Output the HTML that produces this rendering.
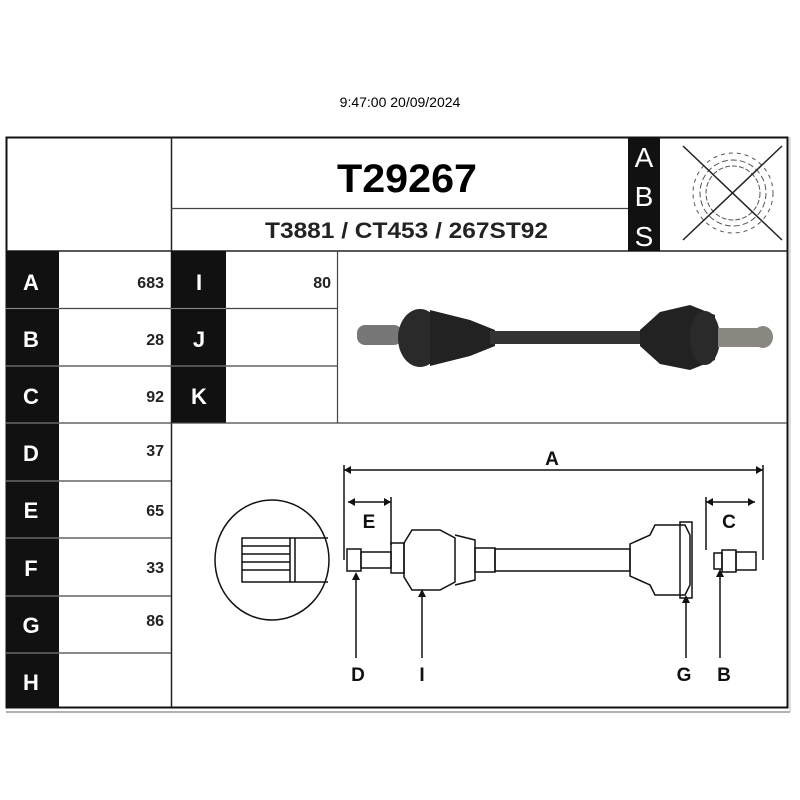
<!DOCTYPE html>
<html><head><style>
body{margin:0;background:#fff;}
svg{display:block;font-family:"Liberation Sans",Arial,sans-serif;}
</style></head><body>
<svg width="800" height="800" viewBox="0 0 800 800">
<text x="400" y="107" font-size="14" text-anchor="middle">9:47:00 20/09/2024</text>
<rect x="6.5" y="137.5" width="781" height="570" fill="none" stroke="#111" stroke-width="2"/>
<line x1="6" y1="712" x2="790" y2="712" stroke="#999" stroke-width="1.5"/>
<line x1="790" y1="137" x2="790" y2="712" stroke="#bbb" stroke-width="1"/>
<line x1="171.5" y1="137" x2="171.5" y2="707" stroke="#222" stroke-width="1.5"/>
<line x1="171" y1="208.5" x2="628" y2="208.5" stroke="#444" stroke-width="1.2"/>
<line x1="6" y1="251" x2="787" y2="251" stroke="#222" stroke-width="1.5"/>
<rect x="628" y="137" width="32" height="114" fill="#111"/>
<text x="644" y="167" font-size="28" fill="#fff" text-anchor="middle">A</text>
<text x="644" y="206" font-size="28" fill="#fff" text-anchor="middle">B</text>
<text x="644" y="246" font-size="28" fill="#fff" text-anchor="middle">S</text>
<text x="337" y="192" font-size="40" font-weight="bold" textLength="140" lengthAdjust="spacingAndGlyphs">T29267</text>
<text x="265" y="238" font-size="22" font-weight="bold" fill="#222" textLength="283" lengthAdjust="spacingAndGlyphs">T3881 / CT453 / 267ST92</text>
<g fill="none" stroke="#555" stroke-width="1">
<circle cx="733" cy="193" r="33" stroke-dasharray="6 3"/>
<circle cx="733" cy="193" r="40" stroke-dasharray="4 4"/>
<circle cx="733" cy="193" r="27" stroke-dasharray="5 2"/>
</g>
<line x1="683" y1="146" x2="782" y2="240" stroke="#222" stroke-width="1.5"/>
<line x1="782" y1="146" x2="683" y2="240" stroke="#222" stroke-width="1.5"/>
<g fill="#111">
<rect x="6" y="251" width="53" height="456"/>
<rect x="171" y="251" width="55" height="172"/>
</g>
<g stroke="#444" stroke-width="1.2">
<line x1="6" y1="308.5" x2="337" y2="308.5"/>
<line x1="6" y1="366" x2="337" y2="366"/>
<line x1="6" y1="423" x2="787" y2="423"/>
<line x1="6" y1="481" x2="171" y2="481"/>
<line x1="6" y1="538" x2="171" y2="538"/>
<line x1="6" y1="596" x2="171" y2="596"/>
<line x1="6" y1="653" x2="171" y2="653"/>
<line x1="337.5" y1="251" x2="337.5" y2="423"/>
</g>
<g stroke="#888" stroke-width="1">
<line x1="6" y1="308.5" x2="59" y2="308.5"/><line x1="6" y1="366" x2="59" y2="366"/><line x1="6" y1="423" x2="59" y2="423"/><line x1="6" y1="481" x2="59" y2="481"/><line x1="6" y1="538" x2="59" y2="538"/><line x1="6" y1="596" x2="59" y2="596"/><line x1="6" y1="653" x2="59" y2="653"/>
<line x1="171" y1="308.5" x2="226" y2="308.5"/><line x1="171" y1="366" x2="226" y2="366"/>
</g>
<g fill="#fff" font-size="22" font-weight="bold" text-anchor="middle">
<text x="31" y="290">A</text><text x="31" y="347">B</text><text x="31" y="404">C</text><text x="31" y="461">D</text><text x="31" y="518">E</text><text x="31" y="576">F</text><text x="31" y="633">G</text><text x="31" y="690">H</text>
<text x="199" y="290">I</text><text x="199" y="347">J</text><text x="199" y="404">K</text>
</g>
<g font-size="16" font-weight="bold" text-anchor="end" fill="#222">
<text x="164" y="288">683</text><text x="164" y="345">28</text><text x="164" y="402">92</text><text x="164" y="456">37</text><text x="164" y="516">65</text><text x="164" y="573">33</text><text x="164" y="626">86</text>
<text x="331" y="288">80</text>
</g>
<g>
<rect x="357" y="325" width="45" height="20" rx="8" fill="#777"/>
<ellipse cx="420" cy="338" rx="22" ry="29" fill="#2a2a2a"/>
<path d="M430 310 L470 320 L495 330 L495 346 L470 356 L430 366 Z" fill="#222"/>
<rect x="490" y="331" width="150" height="13" fill="#333"/>
<path d="M640 330 L660 312 L690 305 L715 315 L715 360 L690 370 L660 364 L640 346 Z" fill="#222"/>
<ellipse cx="705" cy="338" rx="15" ry="27" fill="#2a2a2a"/>
<rect x="718" y="328" width="45" height="19" fill="#8a8680"/>
<ellipse cx="763" cy="337" rx="10" ry="11" fill="#8a8680"/>
</g>
<g stroke="#111" fill="none" stroke-width="1.5">
<ellipse cx="272" cy="560" rx="57" ry="60"/>
<rect x="242" y="538" width="48" height="44" fill="#fff"/>
<line x1="242" y1="546" x2="290" y2="546"/><line x1="242" y1="554" x2="290" y2="554"/><line x1="242" y1="562" x2="290" y2="562"/><line x1="242" y1="570" x2="290" y2="570"/>
<line x1="290" y1="538" x2="328" y2="538"/><line x1="290" y1="582" x2="328" y2="582"/><line x1="295" y1="538" x2="295" y2="582"/>
<line x1="344" y1="470" x2="763" y2="470"/>
<line x1="344" y1="465" x2="344" y2="560"/><line x1="763" y1="465" x2="763" y2="560"/>
<line x1="348" y1="502" x2="391" y2="502"/><line x1="391" y1="497" x2="391" y2="545"/>
<line x1="706" y1="502" x2="755" y2="502"/><line x1="706" y1="497" x2="706" y2="550"/>
<rect x="347" y="549" width="14" height="22"/>
<rect x="361" y="552" width="30" height="16"/>
<rect x="391" y="543" width="13" height="30"/>
<path d="M404 543 L412 530 L440 530 L455 538 L455 582 L440 590 L412 590 L404 577 Z"/>
<path d="M455 535 L475 540 L475 580 L455 585"/>
<rect x="475" y="548" width="20" height="24"/>
<rect x="495" y="549" width="135" height="22"/>
<path d="M630 544 L650 535 L655 525 L685 525 L690 535 L690 585 L685 595 L655 595 L650 585 L630 576 Z"/>
<rect x="680" y="522" width="12" height="76"/>
<rect x="714" y="553" width="8" height="16"/>
<rect x="722" y="550" width="14" height="22"/>
<rect x="736" y="552" width="20" height="18"/>
<line x1="356" y1="575" x2="356" y2="658"/>
<line x1="422" y1="592" x2="422" y2="658"/>
<line x1="686" y1="598" x2="686" y2="658"/>
<line x1="720" y1="572" x2="720" y2="658"/>
</g>
<g fill="#111">
<path d="M344 470 l7 -4 v8 z"/><path d="M763 470 l-7 -4 v8 z"/>
<path d="M348 502 l7 -4 v8 z"/><path d="M391 502 l-7 -4 v8 z"/>
<path d="M706 502 l7 -4 v8 z"/><path d="M755 502 l-7 -4 v8 z"/>
<path d="M356 572 l-4 8 h8 z"/><path d="M422 589 l-4 8 h8 z"/><path d="M686 595 l-4 8 h8 z"/><path d="M720 569 l-4 8 h8 z"/>
</g>
<g font-size="19" font-weight="bold" text-anchor="middle" fill="#111">
<text x="552" y="465">A</text><text x="369" y="528">E</text><text x="729" y="528">C</text>
<text x="358" y="681">D</text><text x="422" y="681">I</text><text x="684" y="681">G</text><text x="724" y="681">B</text>
</g>
</svg>
</body></html>
